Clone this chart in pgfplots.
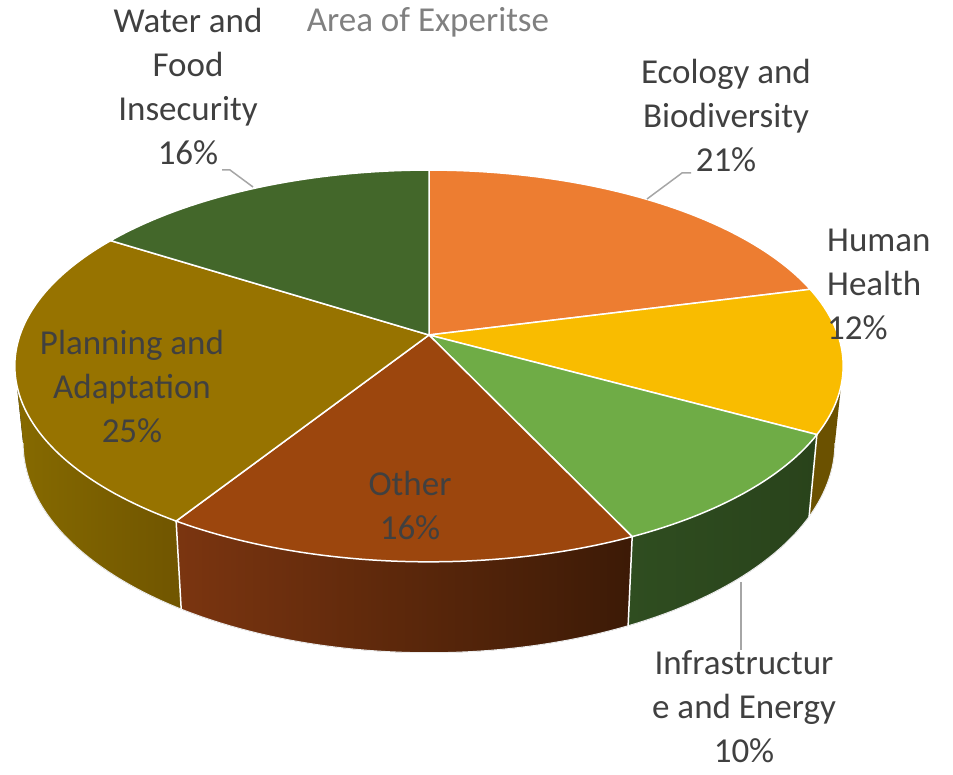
\documentclass[border=0pt]{standalone}
\usepackage{pgfplots}
\pgfplotsset{compat=1.18}
\usepackage{pgfplotstable}
\usepgfplotslibrary{fillbetween}
\usepackage{fontspec}
\setmainfont{Carlito}
\definecolor{cEco}{HTML}{ED7D31}
\definecolor{cHum}{HTML}{F9BC00}
\definecolor{cInf}{HTML}{6FAC46}
\definecolor{cOth}{HTML}{9C460D}
\definecolor{cPla}{HTML}{977300}
\definecolor{cWat}{HTML}{43672A}
\definecolor{sHum}{HTML}{6B5100}
\definecolor{sInfL}{HTML}{2F4D20}
\definecolor{sInfR}{HTML}{29431B}
\definecolor{sOthL}{HTML}{7B3510}
\definecolor{sOthR}{HTML}{3C1A06}
\definecolor{sPlaL}{HTML}{866A00}
\definecolor{sPlaR}{HTML}{705500}
\definecolor{lab}{HTML}{404040}
\definecolor{ttl}{HTML}{808080}
\definecolor{lead}{HTML}{A6A6A6}
\tikzset{lbl/.style={font=\fontsize{35}{44}\selectfont, text=lab, align=center, inner sep=0pt}}

\pgfplotstableread{
label value
Ecology 21
Health 12
Infrastructure 10
Other 16
Planning 25
Water 16
}\piedata

\begin{document}
\begin{tikzpicture}[
  declare function={
    PX(\t)=429+409*cos(\t)/(1+0.158*sin(\t));
    PY(\t)=440+191*sin(\t)/(1+0.158*sin(\t));
    BX(\t)=429+400.8*cos(\t)/(1+0.158*sin(\t));
    BY(\t)=365+204.4*sin(\t)/(1+0.158*sin(\t));
  }]
\pgfplotstablegetelem{0}{value}\of\piedata \let\vA\pgfplotsretval
\pgfplotstablegetelem{1}{value}\of\piedata \let\vB\pgfplotsretval
\pgfplotstablegetelem{2}{value}\of\piedata \let\vC\pgfplotsretval
\pgfplotstablegetelem{3}{value}\of\piedata \let\vD\pgfplotsretval
\pgfplotstablegetelem{4}{value}\of\piedata \let\vE\pgfplotsretval
\pgfplotstablegetelem{5}{value}\of\piedata \let\vF\pgfplotsretval
\pgfmathsetmacro\aA{90}
\pgfmathsetmacro\aB{\aA-3.6*\vA}
\pgfmathsetmacro\aC{\aB-3.6*\vB}
\pgfmathsetmacro\aD{\aC-3.6*\vC}
\pgfmathsetmacro\aE{\aD-3.6*\vD}
\pgfmathsetmacro\aF{\aE-3.6*\vE}
\pgfmathsetmacro\aG{\aF-3.6*\vF}
\pgfmathsetmacro\sR{-asin(0.158)}
\pgfmathsetmacro\sL{-180-\sR}
% divider points on the side
\pgfmathsetmacro\xCt{PX(\aC)}\pgfmathsetmacro\yCt{PY(\aC)}
\pgfmathsetmacro\xCb{BX(\aC)}\pgfmathsetmacro\yCb{BY(\aC)}
\pgfmathsetmacro\xDt{PX(\aD)}\pgfmathsetmacro\yDt{PY(\aD)}
\pgfmathsetmacro\xDb{BX(\aD)}\pgfmathsetmacro\yDb{BY(\aD)}
\pgfmathsetmacro\xEt{PX(\aE)}\pgfmathsetmacro\yEt{PY(\aE)}
\pgfmathsetmacro\xEb{BX(\aE)}\pgfmathsetmacro\yEb{BY(\aE)}
\begin{axis}[
  x=1pt, y=1pt,
  xmin=0, xmax=953, ymin=0, ymax=775,
  hide axis, clip=false,
]
% ---------- sides ----------
\addplot[name path=tH, draw=none, domain=\aC:\sR, samples=40, variable=\t] ({PX(\t)},{PY(\t)});
\addplot[name path=bH, draw=none, domain=\aC:\sR, samples=40, variable=\t] ({BX(\t)},{BY(\t)});
\addplot[fill=sHum, draw=none] fill between[of=tH and bH];

\addplot[name path=tI, draw=none, domain=\aD:\aC, samples=40, variable=\t] ({PX(\t)},{PY(\t)});
\addplot[name path=bI, draw=none, domain=\aD:\aC, samples=40, variable=\t] ({BX(\t)},{BY(\t)});
\addplot[left color=sInfL, right color=sInfR, draw=none] fill between[of=tI and bI];

\addplot[name path=tO, draw=none, domain=\aE:\aD, samples=60, variable=\t] ({PX(\t)},{PY(\t)});
\addplot[name path=bO, draw=none, domain=\aE:\aD, samples=60, variable=\t] ({BX(\t)},{BY(\t)});
\addplot[left color=sOthL, right color=sOthR, draw=none] fill between[of=tO and bO];

\addplot[name path=tP, draw=none, domain=\sL:\aE, samples=60, variable=\t] ({PX(\t)},{PY(\t)});
\addplot[name path=bP, draw=none, domain=\sL:\aE, samples=60, variable=\t] ({BX(\t)},{BY(\t)});
\addplot[left color=sPlaL, right color=sPlaR, draw=none] fill between[of=tP and bP];

% bottom outline
\addplot[draw=white!85!gray, line width=1pt, domain=\sL:\sR, samples=120, variable=\t] ({BX(\t)},{BY(\t)});
% side dividers
\addplot[draw=white, line width=1.5pt] coordinates {(\xCt,\yCt) (\xCb,\yCb)};
\addplot[draw=white, line width=1.5pt] coordinates {(\xDt,\yDt) (\xDb,\yDb)};
\addplot[draw=white, line width=1.5pt] coordinates {(\xEt,\yEt) (\xEb,\yEb)};

% ---------- top faces ----------
\addplot[fill=cEco, draw=white, line width=1.5pt, domain=\aB:\aA, samples=60, variable=\t] ({PX(\t)},{PY(\t)}) -- (axis cs:429,440) -- cycle;
\addplot[fill=cHum, draw=white, line width=1.5pt, domain=\aC:\aB, samples=60, variable=\t] ({PX(\t)},{PY(\t)}) -- (axis cs:429,440) -- cycle;
\addplot[fill=cInf, draw=white, line width=1.5pt, domain=\aD:\aC, samples=60, variable=\t] ({PX(\t)},{PY(\t)}) -- (axis cs:429,440) -- cycle;
\addplot[fill=cOth, draw=white, line width=1.5pt, domain=\aE:\aD, samples=60, variable=\t] ({PX(\t)},{PY(\t)}) -- (axis cs:429,440) -- cycle;
\addplot[fill=cPla, draw=white, line width=1.5pt, domain=\aF:\aE, samples=80, variable=\t] ({PX(\t)},{PY(\t)}) -- (axis cs:429,440) -- cycle;
\addplot[fill=cWat, draw=white, line width=1.5pt, domain=\aG:\aF, samples=60, variable=\t] ({PX(\t)},{PY(\t)}) -- (axis cs:429,440) -- cycle;

% ---------- leader lines ----------
\addplot[draw=lead, line width=1.5pt] coordinates {(222,605) (230,605) (253,588)};
\addplot[draw=lead, line width=1.5pt] coordinates {(691,602) (682,602) (647,576)};
\addplot[draw=lead, line width=1.5pt] coordinates {(741,193) (741,125)};

% ---------- labels ----------
\node[lbl, text=ttl] at (axis cs:428,753) {Area of Experitse};
\node[lbl] at (axis cs:188,688) {Water and\\Food\\Insecurity\\16\%};
\node[lbl] at (axis cs:726,659) {Ecology and\\Biodiversity\\21\%};
\node[lbl, align=left, anchor=west] at (axis cs:827,491) {Human\\Health\\12\%};
\node[lbl] at (axis cs:132,388) {Planning and\\Adaptation\\25\%};
\node[lbl] at (axis cs:410,269) {Other\\16\%};
\node[lbl] at (axis cs:744,68) {Infrastructur\\e and Energy\\10\%};
\end{axis}
\pgfresetboundingbox
\path (current axis.south west) rectangle (current axis.north east);
\end{tikzpicture}
\end{document}
